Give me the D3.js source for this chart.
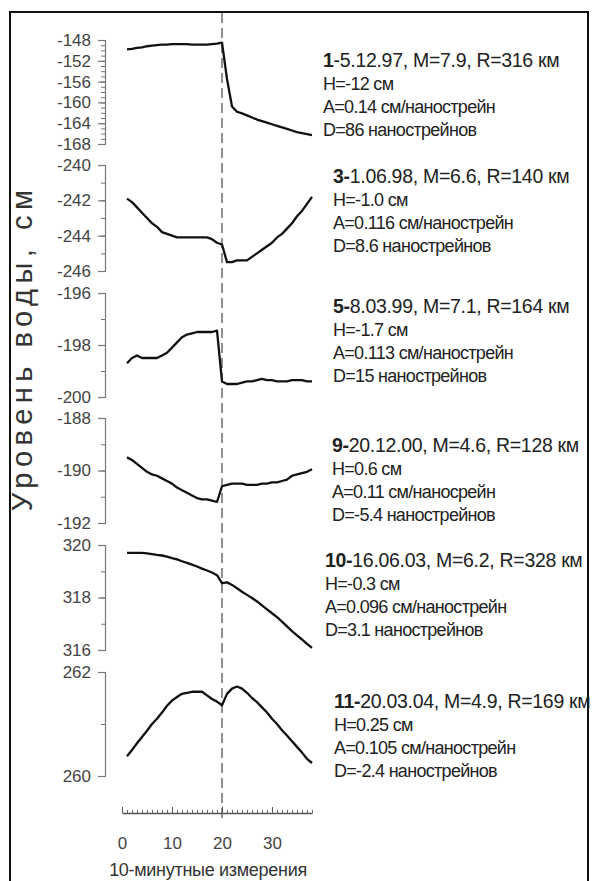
<!DOCTYPE html>
<html>
<head>
<meta charset="utf-8">
<script src="https://cdn.jsdelivr.net/npm/d3@7"></script>
<style>
  body { margin: 0; background: #fff; }
  text { font-family: "Liberation Sans", Arial, sans-serif; }
</style>
</head>
<body>
<div id="chart"></div>
<script>
// 10-minute measurement index
const steps = [1, 2, 3, 4, 5, 6, 7, 8, 9, 10, 11, 12, 13, 14, 15, 16, 17, 18, 19, 20,
  21, 22, 23, 24, 25, 26, 27, 28, 29, 30, 31, 32, 33, 34, 35, 36, 37, 38];

// water level, cm
const level1 = [-149.8, -149.7, -149.5, -149.4, -149.2, -149.1, -149.0, -148.9, -148.9, -148.8,
  -148.8, -148.8, -148.8, -148.9, -148.9, -148.9, -148.9, -148.8, -148.7, -148.5,
  -155.5, -160.8, -161.8, -162.1, -162.5, -162.9, -163.3, -163.6, -163.9, -164.2,
  -164.5, -164.8, -165.1, -165.4, -165.7, -165.9, -166.1, -166.3];
const level3 = [-241.9, -242.1, -242.4, -242.7, -243.0, -243.3, -243.5, -243.8, -243.9, -244.0,
  -244.1, -244.1, -244.1, -244.1, -244.1, -244.1, -244.1, -244.2, -244.4, -244.5,
  -245.5, -245.5, -245.4, -245.4, -245.4, -245.2, -245.0, -244.8, -244.6, -244.4,
  -244.1, -243.9, -243.6, -243.3, -242.9, -242.6, -242.2, -241.8];
const level5 = [-198.7, -198.5, -198.4, -198.5, -198.5, -198.5, -198.5, -198.4, -198.3, -198.1,
  -197.9, -197.7, -197.6, -197.55, -197.5, -197.5, -197.5, -197.5, -197.45, -199.4,
  -199.5, -199.5, -199.5, -199.45, -199.4, -199.4, -199.35, -199.3, -199.35, -199.35,
  -199.4, -199.4, -199.4, -199.35, -199.35, -199.35, -199.4, -199.4];
const level9 = [-189.5, -189.6, -189.75, -189.9, -190.05, -190.15, -190.2, -190.3, -190.4, -190.5,
  -190.65, -190.75, -190.85, -190.95, -191.05, -191.1, -191.1, -191.15, -191.2, -190.6,
  -190.55, -190.5, -190.5, -190.5, -190.55, -190.55, -190.55, -190.5, -190.5, -190.45,
  -190.45, -190.4, -190.35, -190.2, -190.15, -190.1, -190.05, -189.95];
const level10 = [319.7, 319.7, 319.7, 319.7, 319.68, 319.65, 319.62, 319.6, 319.56, 319.5,
  319.45, 319.38, 319.32, 319.25, 319.18, 319.1, 319.03, 318.95, 318.85, 318.55,
  318.58, 318.48, 318.35, 318.22, 318.1, 317.98, 317.85, 317.7, 317.55, 317.4,
  317.25, 317.08, 316.9, 316.72, 316.56, 316.4, 316.23, 316.08];
const level11 = [260.38, 260.5, 260.63, 260.75, 260.87, 261.0, 261.1, 261.22, 261.35, 261.45,
  261.52, 261.58, 261.6, 261.62, 261.62, 261.62, 261.55, 261.48, 261.43, 261.36,
  261.58, 261.68, 261.72, 261.68, 261.6, 261.5, 261.42, 261.32, 261.22, 261.1,
  261.0, 260.88, 260.78, 260.67, 260.56, 260.45, 260.33, 260.25];

// y axis domains and tick labels
const domains = [[-168, -148], [-246, -240], [-200, -196], [-192, -188], [316, 320], [260, 262]];
const majorTicks = [
  [-148, -152, -156, -160, -164, -168],
  [-240, -242, -244, -246],
  [-196, -198, -200],
  [-188, -190, -192],
  [320, 318, 316],
  [262, 260]
];
const xTicks = [0, 10, 20, 30];

// event labels: bold number, then the rest of the first line, then three lines
const eventNums = ["1", "3-", "5-", "9-", "10-", "11-"];
const eventHeads = [
  "-5.12.97, M=7.9, R=316 км",
  "1.06.98, M=6.6, R=140 км",
  "8.03.99, M=7.1, R=164 км",
  "20.12.00, M=4.6, R=128 км",
  "16.06.03, M=6.2, R=328 км",
  "20.03.04, M=4.9, R=169 км"
];
const eventH = ["H=-12 см", "H=-1.0 см", "H=-1.7 см", "H=0.6 см", "H=-0.3 см", "H=0.25 см"];
const eventA = ["A=0.14 см/нанострейн", "A=0.116 см/нанострейн", "A=0.113 см/нанострейн",
  "A=0.11 см/наносрейн", "A=0.096 см/нанострейн", "A=0.105 см/нанострейн"];
const eventD = ["D=86 нанострейнов", "D=8.6 нанострейнов", "D=15 нанострейнов",
  "D=-5.4 нанострейнов", "D=3.1 нанострейнов", "D=-2.4 нанострейнов"];

const series = [level1, level3, level5, level9, level10, level11];

var width = 592, height = 881;

// pixel bands of each panel (top, bottom) and label placement
var bands = [[40, 144], [165, 271], [293, 397], [418, 523], [545, 650], [672, 776]];
var textX = [323, 333, 333, 332, 325, 334];
var textY = [67, 183, 313, 452, 567, 708];

var svg = d3.select("#chart")
  .append("svg")
  .attr("width", width)
  .attr("height", height);

// frame
svg.append("rect")
  .attr("x", 10)
  .attr("y", 12)
  .attr("width", 578)
  .attr("height", 900)
  .attr("fill", "none")
  .attr("stroke", "#111")
  .attr("stroke-width", 2);

var x = d3.scaleLinear().domain([0, 38]).range([122, 312]);

// dashed event line at step 20
svg.append("line")
  .attr("x1", x(20)).attr("x2", x(20))
  .attr("y1", 13).attr("y2", 822)
  .attr("stroke", "#555")
  .attr("stroke-width", 1.3)
  .attr("stroke-dasharray", "10,5");

series.forEach(function (vals, i) {
  var y = d3.scaleLinear().domain(domains[i]).range([bands[i][1], bands[i][0]]);

  // minor ticks at every unit
  var minor = svg.append("g")
    .attr("transform", "translate(105,0)")
    .call(d3.axisLeft(y).tickValues(d3.range(domains[i][0], domains[i][1] + 1, 1))
      .tickSize(4).tickFormat(""));
  minor.select(".domain").remove();
  minor.selectAll("line").attr("stroke", "#777");

  var ax = svg.append("g")
    .attr("transform", "translate(105,0)")
    .call(d3.axisLeft(y).tickValues(majorTicks[i]).tickSize(7).tickSizeOuter(7)
      .tickFormat(d => String(d)));
  ax.select(".domain").attr("stroke", "#777").attr("stroke-width", 1.2);
  ax.selectAll("line").attr("stroke", "#777").attr("stroke-width", 1.2);
  ax.selectAll("text")
    .attr("x", -14)
    .attr("fill", "#444")
    .style("font-size", "17px");

  var line = d3.line()
    .x((d, k) => x(steps[k]))
    .y(d => y(d));

  svg.append("path")
    .datum(vals)
    .attr("d", line)
    .attr("fill", "none")
    .attr("stroke", "#111")
    .attr("stroke-width", 2.3)
    .attr("stroke-linejoin", "round");

  var t = svg.append("text")
    .attr("x", textX[i])
    .attr("y", textY[i])
    .attr("fill", "#222")
    .style("font-size", "19.5px")
    .style("letter-spacing", "-0.3px");
  t.append("tspan").attr("font-weight", "bold").text(eventNums[i]);
  t.append("tspan").text(eventHeads[i]);
  [eventH[i], eventA[i], eventD[i]].forEach(function (s, j) {
    svg.append("text")
      .attr("x", textX[i])
      .attr("y", textY[i] + 23 * (j + 1))
      .attr("fill", "#222")
      .style("font-size", "18px")
      .style("letter-spacing", "-0.7px")
      .text(s);
  });
});

// x axis: minor ticks each step, major every 10, ticks pointing up
var xMinor = svg.append("g")
  .attr("transform", "translate(0,813)")
  .call(d3.axisTop(x).tickValues(d3.range(0, 39)).tickSize(3).tickFormat(""));
xMinor.selectAll("line").attr("stroke", "#666");
xMinor.select(".domain").remove();

var xAx = svg.append("g")
  .attr("transform", "translate(0,813)")
  .call(d3.axisTop(x).tickValues(xTicks).tickSize(6).tickSizeOuter(0));
xAx.select(".domain").attr("stroke", "#555").attr("stroke-width", 1.3);
xAx.selectAll("line").attr("stroke", "#555");
xAx.selectAll("text")
  .attr("y", 36)
  .attr("fill", "#444")
  .style("font-size", "17px");

svg.append("text")
  .attr("x", 208)
  .attr("y", 876)
  .attr("text-anchor", "middle")
  .attr("fill", "#333")
  .style("font-size", "18px")
  .style("letter-spacing", "-0.3px")
  .text("10-минутные измерения");

svg.append("text")
  .attr("transform", "translate(32,348) rotate(-90)")
  .attr("text-anchor", "middle")
  .attr("fill", "#333")
  .style("font-size", "29px")
  .style("letter-spacing", "5.5px")
  .text("Уровень воды, см");
</script>
</body>
</html>
